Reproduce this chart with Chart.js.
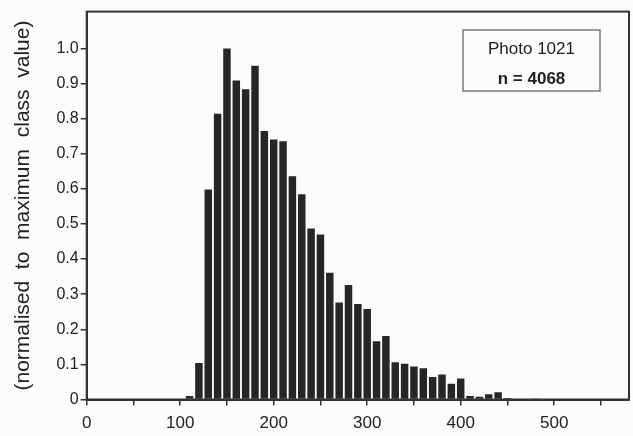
<!DOCTYPE html>
<html>
<head>
<meta charset="utf-8">
<script src="https://cdn.jsdelivr.net/npm/chart.js@4/dist/chart.umd.min.js"></script>
<style>
  html, body { margin: 0; padding: 0; background: #fcfcfa; }
  #wrap { width: 633px; height: 436px; }
</style>
</head>
<body>
<div id="wrap"><canvas id="c" width="633" height="436"></canvas></div>
<script>
// Class centres (size classes) and normalised frequencies
const classCentres = [110,120,130,140,150,160,170,180,190,200,210,220,230,240,250,260,270,280,290,300,310,320,330,340,350,360,370,380,390,400,410,420,430,440,450,460,470,480];
const normValues   = [0.010,0.104,0.598,0.814,1.000,0.909,0.884,0.951,0.765,0.741,0.736,0.636,0.585,0.487,0.470,0.361,0.276,0.326,0.272,0.258,0.166,0.181,0.106,0.102,0.094,0.089,0.064,0.071,0.045,0.060,0.010,0.008,0.015,0.021,0.004,0,0,0.003];
const xTickValues  = [0,50,100,150,200,250,300,350,400,450,500,550];
const yTickValues  = [0,0.1,0.2,0.3,0.4,0.5,0.6,0.7,0.8,0.9,1.0];
const yAxisTitle   = '(normalised  to  maximum  class  value)';
const boxLine1     = 'Photo 1021';
const boxLine2     = 'n = 4068';

const FONT = '"Liberation Sans", Arial, Helvetica, sans-serif';
const INK = '#222222';

const bgPlugin = {
  id: 'bg',
  beforeDraw(chart) {
    const ctx = chart.ctx;
    ctx.save();
    ctx.fillStyle = '#fcfcfa';
    ctx.fillRect(0, 0, chart.width, chart.height);
    ctx.restore();
  }
};

const framePlugin = {
  id: 'frame',
  afterDraw(chart) {
    const {ctx, chartArea: a} = chart;
    ctx.save();
    ctx.strokeStyle = '#333333';
    ctx.lineWidth = 2;
    ctx.strokeRect(a.left, a.top, a.right - a.left, a.bottom - a.top);
    // annotation box
    const bx = 463, by = 30, bw = 137, bh = 61;
    ctx.strokeStyle = '#7a7a7a';
    ctx.lineWidth = 1.5;
    ctx.strokeRect(bx, by, bw, bh);
    ctx.fillStyle = INK;
    ctx.textAlign = 'center';
    ctx.textBaseline = 'middle';
    ctx.font = '17px ' + FONT;
    ctx.fillText(boxLine1, bx + bw / 2, 49);
    ctx.font = 'bold 17px ' + FONT;
    ctx.fillText(boxLine2, bx + bw / 2, 79);
    ctx.restore();
  }
};

new Chart(document.getElementById('c'), {
  type: 'bar',
  data: {
    datasets: [{
      data: classCentres.map((x, i) => ({x: x, y: normValues[i]})),
      backgroundColor: '#262626',
      borderWidth: 0,
      barPercentage: 0.8,
      categoryPercentage: 1.0
    }]
  },
  options: {
    responsive: false,
    animation: false,
    layout: { padding: { left: 0, right: 4, top: 9, bottom: 0 } },
    plugins: { legend: { display: false }, tooltip: { enabled: false } },
    scales: {
      x: {
        type: 'linear',
        offset: false,
        min: 0,
        max: 580,
        afterFit(scale) { scale.height = 36.5; },
        afterBuildTicks(scale) { scale.ticks = xTickValues.map(v => ({value: v})); },
        grid: { offset: false, drawOnChartArea: false, drawTicks: true, tickLength: 6, color: '#333333', lineWidth: 1.5 },
        border: { display: true, color: '#333333', width: 2 },
        ticks: {
          padding: 8,
          color: INK,
          font: { family: FONT, size: 17 },
          maxRotation: 0,
          autoSkip: false,
          callback: (v) => (v % 100 === 0 ? String(v) : '')
        }
      },
      y: {
        min: 0,
        max: 1.105,
        afterFit(scale) { scale.width = 86.7; },
        afterBuildTicks(scale) { scale.ticks = yTickValues.map(v => ({value: v})); },
        grid: { drawOnChartArea: false, drawTicks: true, tickLength: 6, color: '#333333', lineWidth: 1.5 },
        border: { display: true, color: '#333333', width: 2 },
        ticks: {
          padding: 2,
          color: INK,
          font: { family: FONT, size: 16 },
          autoSkip: false,
          callback: (v) => (v === 0 ? '0' : Number(v).toFixed(1))
        },
        title: {
          display: true,
          text: yAxisTitle,
          color: INK,
          font: { family: FONT, size: 21 },
          padding: { top: 11, bottom: 0 }
        }
      }
    }
  },
  plugins: [bgPlugin, framePlugin]
});
</script>
</body>
</html>
